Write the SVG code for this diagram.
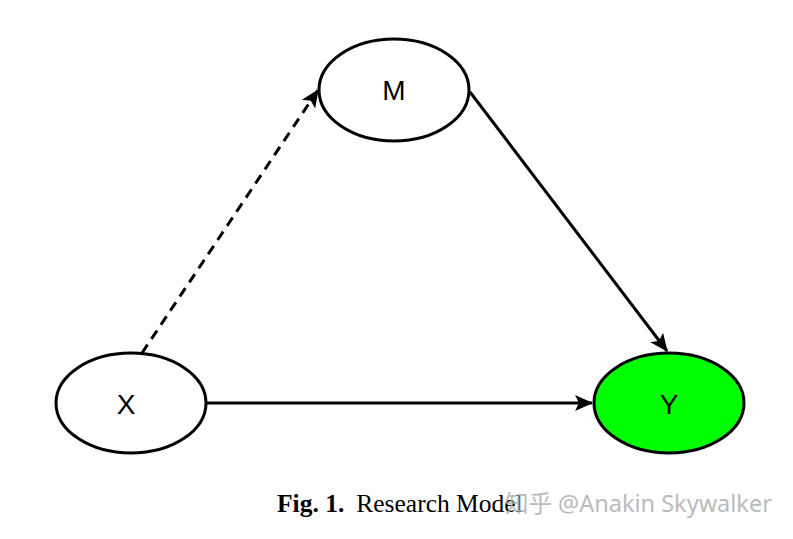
<svg xmlns="http://www.w3.org/2000/svg" width="793" height="539" viewBox="0 0 793 539">
<style>
.node{fill:#fff;stroke:#000;stroke-width:3}
.lbl{font-family:"Liberation Sans",Arial,sans-serif;font-size:28px;text-anchor:middle;fill:#000}
.edge{stroke:#000;stroke-width:3;fill:none}
</style>
<defs>
<marker id="ahb" markerWidth="18" markerHeight="18" refX="17" refY="9" orient="auto" markerUnits="userSpaceOnUse" viewBox="0 0 18 18">
<path d="M0,1 L18,9 L0,17 L4,9 Z" fill="#000"/>
</marker>
</defs>
<rect width="793" height="539" fill="#fff"/>
<g id="connectors">
<path class="edge" d="M142,353 L318,90" stroke-dasharray="10,7" marker-end="url(#ahb)"/>
<path class="edge" d="M470,92 L667,351" marker-end="url(#ahb)"/>
<path class="edge" d="M207,403 L592,403" marker-end="url(#ahb)"/>
</g>
<g id="M">
<ellipse class="node" cx="394" cy="90" rx="75" ry="51"/>
<text class="lbl" x="394" y="100">M</text>
</g>
<g id="X">
<ellipse class="node" cx="131" cy="403" rx="75" ry="50"/>
<text class="lbl" x="126" y="414">X</text>
</g>
<g id="Y">
<ellipse class="node" cx="669" cy="403" rx="75" ry="50" style="fill:#00ff00"/>
<text class="lbl" x="669" y="414">Y</text>
</g>
<text x="277" y="512" font-family="Liberation Serif,'Times New Roman',serif" font-size="25.5" fill="#000"><tspan font-weight="bold">Fig. 1.</tspan><tspan dx="12">Research Model</tspan></text>
<text x="505" y="512" font-family="'Noto Sans','Noto Sans CJK SC',sans-serif" font-size="23.5" fill="#b0b0b0" opacity="0.85">知乎 @Anakin Skywalker</text>
</svg>
